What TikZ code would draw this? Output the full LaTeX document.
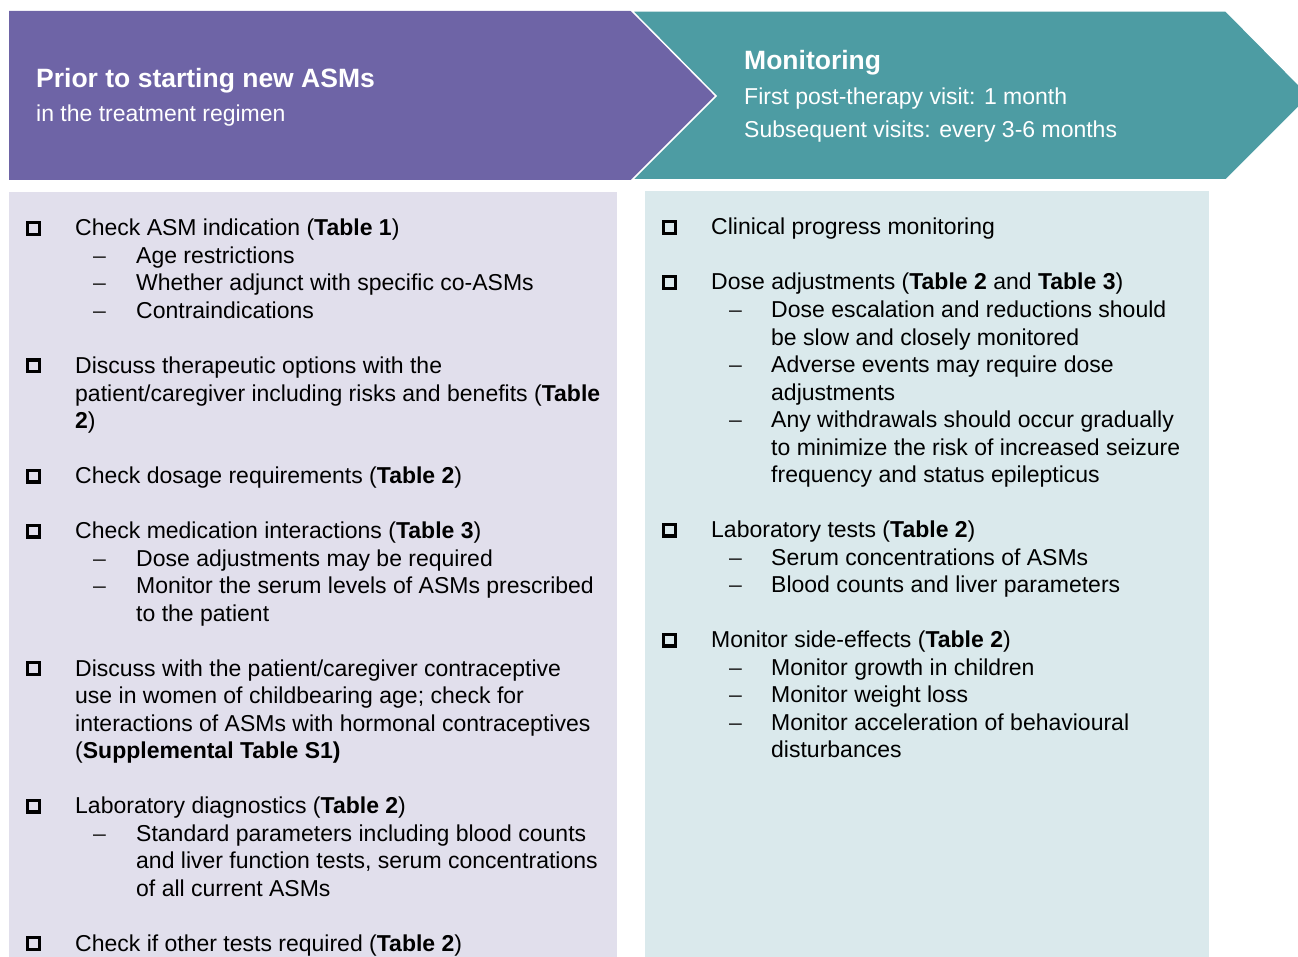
\documentclass[tikz,border=0pt]{standalone}
\usepackage{fontspec}
\setmainfont{Liberation Sans}
\definecolor{prepurple}{HTML}{6E64A6}
\definecolor{monteal}{HTML}{4D9CA3}
\definecolor{prepanel}{HTML}{E1DFEC}
\definecolor{monpanel}{HTML}{DAE9EC}
\begin{document}
\begin{tikzpicture}[x=1pt,y=-1pt,
  txt/.style={anchor=base west, inner sep=0pt, font=\fontsize{23}{27.5}\selectfont},
  hd/.style={anchor=base west, inner sep=0pt, text=white, font=\bfseries\fontsize{26.5}{30}\selectfont},
  hsub/.style={anchor=base west, inner sep=0pt, text=white, font=\fontsize{23}{27.5}\selectfont},
  chk/.style={draw=black, line width=3.4pt, minimum size=11.6pt, inner sep=0pt},
  dsh/.style={txt, text=black!85}]
\useasboundingbox (0,0) rectangle (1298,957);
\clip (0,0) rectangle (1298,957);

% header arrows
\fill[prepurple] (9,11) -- (632,11) -- (716,96) -- (632,180) -- (9,180) -- cycle;
\filldraw[fill=monteal, draw=white, line width=1.5pt]
  (632,11) -- (1226,11) -- (1310,96) -- (1226,180) -- (632,180) -- (716,96) -- cycle;

% content panels
\fill[prepanel] (9,192) rectangle (617,960);
\fill[monpanel] (645,191) rectangle (1209,960);

% header texts
\node[hd] (h1) at (36,87.5) {Prior to starting new ASMs};
\node[hsub] (h2) at (36,122) {in the treatment regimen};
\node[hd] (h3) at (744,70) {Monitoring};
\node[hsub] (h4) at (744,105) {First post-therapy visit: 1 month};
\node[hsub] (h5) at (744,138) {Subsequent visits: every 3-6 months};

% left column
\node[txt] (l1) at (75,236) {Check ASM indication (\textbf{Table 1})};
\node[txt] (l2) at (136,263.5) {Age restrictions};
\node[txt] (l3) at (136,291) {Whether adjunct with specific co-ASMs};
\node[txt] (l4) at (136,318.5) {Contraindications};
\node[txt] (l5) at (75,373.5) {Discuss therapeutic options with the};
\node[txt] (l6) at (75,401) {patient/caregiver including risks and benefits (\textbf{Table}};
\node[txt] (l7) at (75,428.5) {\textbf{2})};
\node[txt] (l8) at (75,483.5) {Check dosage requirements (\textbf{Table 2})};
\node[txt] (l9) at (75,538.5) {Check medication interactions (\textbf{Table 3})};
\node[txt] (l10) at (136,566) {Dose adjustments may be required};
\node[txt] (l11) at (136,593.5) {Monitor the serum levels of ASMs prescribed};
\node[txt] (l12) at (136,621) {to the patient};
\node[txt] (l13) at (75,676) {Discuss with the patient/caregiver contraceptive};
\node[txt] (l14) at (75,703.5) {use in women of childbearing age; check for};
\node[txt] (l15) at (75,731) {interactions of ASMs with hormonal contraceptives};
\node[txt] (l16) at (75,758.5) {(\textbf{Supplemental Table S1)}};
\node[txt] (l17) at (75,813.5) {Laboratory diagnostics (\textbf{Table 2})};
\node[txt] (l18) at (136,841) {Standard parameters including blood counts};
\node[txt] (l19) at (136,868.5) {and liver function tests, serum concentrations};
\node[txt] (l20) at (136,896) {of all current ASMs};
\node[txt] (l21) at (75,951) {Check if other tests required (\textbf{Table 2})};

\foreach \y [count=\i] in {236,373.5,483.5,538.5,676,813.5,951}
  \node[chk] (lb\i) at (33.5,\y-7.5) {};
\foreach \y [count=\i] in {263.5,291,318.5,566,593.5,841}
  \node[dsh] (ld\i) at (93,\y) {–};

% right column
\node[txt] (r1) at (711,235) {Clinical progress monitoring};
\node[txt] (r2) at (711,290) {Dose adjustments (\textbf{Table 2} and \textbf{Table 3})};
\node[txt] (r3) at (771,317.5) {Dose escalation and reductions should};
\node[txt] (r4) at (771,345) {be slow and closely monitored};
\node[txt] (r5) at (771,372.5) {Adverse events may require dose};
\node[txt] (r6) at (771,400) {adjustments};
\node[txt] (r7) at (771,427.5) {Any withdrawals should occur gradually};
\node[txt] (r8) at (771,455) {to minimize the risk of increased seizure};
\node[txt] (r9) at (771,482.5) {frequency and status epilepticus};
\node[txt] (r10) at (711,537.5) {Laboratory tests (\textbf{Table 2})};
\node[txt] (r11) at (771,565) {Serum concentrations of ASMs};
\node[txt] (r12) at (771,592.5) {Blood counts and liver parameters};
\node[txt] (r13) at (711,647.5) {Monitor side-effects (\textbf{Table 2})};
\node[txt] (r14) at (771,675) {Monitor growth in children};
\node[txt] (r15) at (771,702.5) {Monitor weight loss};
\node[txt] (r16) at (771,730) {Monitor acceleration of behavioural};
\node[txt] (r17) at (771,757.5) {disturbances};

\foreach \y [count=\i] in {235,290,537.5,647.5}
  \node[chk] (rb\i) at (669.5,\y-7.5) {};
\foreach \y [count=\i] in {317.5,372.5,427.5,565,592.5,675,702.5,730}
  \node[dsh] (rd\i) at (729,\y) {–};
\end{tikzpicture}
\end{document}
